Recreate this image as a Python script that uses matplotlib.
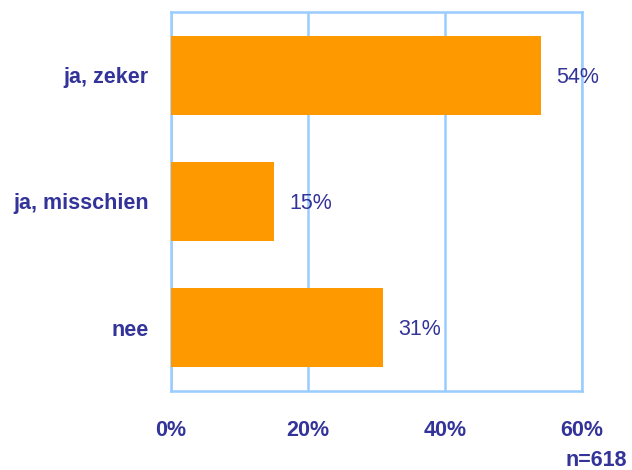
import matplotlib
matplotlib.use("Agg")
import matplotlib.pyplot as plt
from matplotlib.ticker import FixedLocator

categories = ["ja, zeker", "ja, misschien", "nee"]
values = [54, 15, 31]
value_labels = ["54%", "15%", "31%"]
x_ticks = [0, 20, 40, 60]
x_tick_labels = ["0%", "20%", "40%", "60%"]
note = "n=618"

navy = "#333399"
orange = "#FF9900"
gridc = "#99CCFF"

plt.rcParams['font.family'] = ['Liberation Sans', 'DejaVu Sans']

fig = plt.figure(figsize=(6.32, 4.70), dpi=100)
ax = fig.add_axes([171/632, 1 - 391/470, (582 - 171)/632, (391 - 12)/470])

ypos = list(range(len(categories)))
ax.barh(ypos, values, height=0.625, color=orange, zorder=3)
ax.set_ylim(2.5, -0.5)
ax.set_xlim(0, 60)

for y, v, lab in zip(ypos, values, value_labels):
    ax.annotate(lab, xy=(v, y), xytext=(11, -1.5), textcoords="offset points",
                ha="left", va="center", fontsize=15.5, color=navy, zorder=5)

ax.set_yticks(ypos)
ax.set_yticklabels(categories, fontsize=15.5, fontweight="bold", color=navy)
ax.xaxis.set_major_locator(FixedLocator(x_ticks))
ax.set_xticklabels(x_tick_labels, fontsize=15.5, fontweight="bold", color=navy)
ax.tick_params(axis="y", length=0, pad=16)
ax.tick_params(axis="x", length=0, pad=21)

ax.grid(axis="x", color=gridc, linewidth=1.8, zorder=1)
ax.grid(axis="y", visible=False)
for s in ax.spines.values():
    s.set_color(gridc)
    s.set_linewidth(1.8)
    s.set_zorder(2)

fig.text(627/632, 1 - 461/470, note, ha="right", va="center", fontsize=15.5,
         fontweight="bold", color=navy)

fig.savefig("out.png", dpi=100)
